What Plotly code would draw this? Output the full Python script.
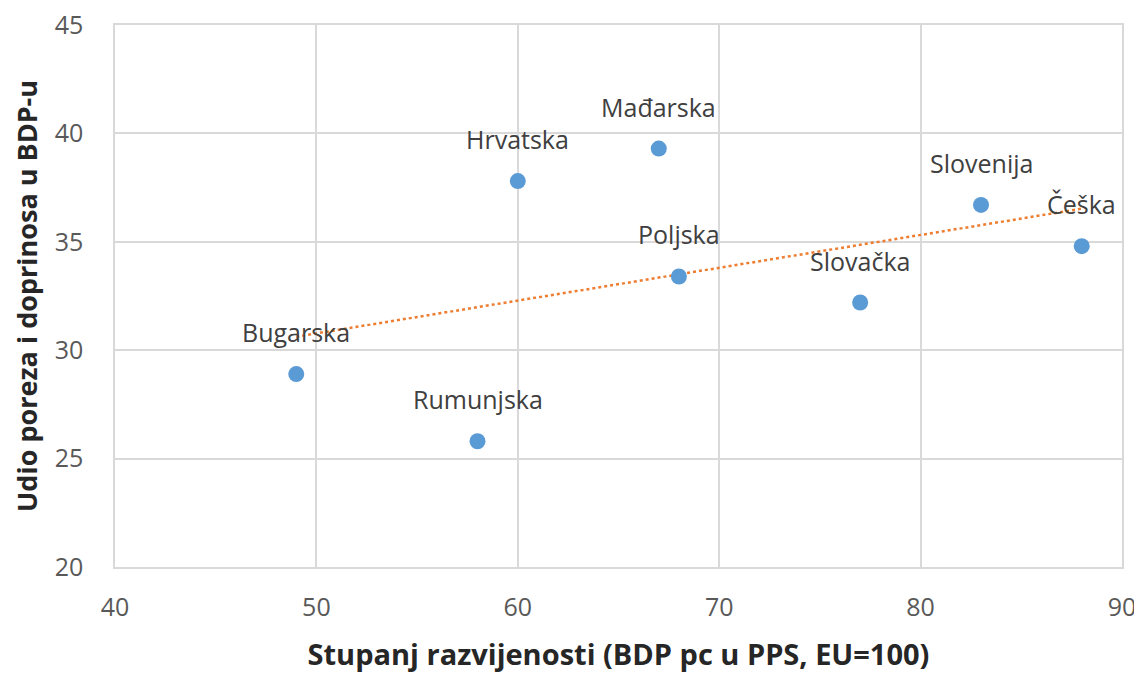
import numpy as np
import plotly.graph_objects as go

countries = ["Bugarska", "Rumunjska", "Hrvatska", "Mađarska", "Poljska", "Slovačka", "Slovenija", "Češka"]
gdp_pps = [49, 58, 60, 67, 68, 77, 83, 88]
tax_share = [28.9, 25.8, 37.8, 39.3, 33.4, 32.2, 36.7, 34.8]

x_ticks = [40, 50, 60, 70, 80, 90]
y_ticks = [20, 25, 30, 35, 40, 45]

FONT = "Open Sans"

# linear trendline (least squares), drawn between the outermost points
slope, intercept = np.polyfit(gdp_pps, tax_share, 1)
trend_x = [min(gdp_pps), max(gdp_pps)]
trend_y = [slope * x + intercept for x in trend_x]

fig = go.Figure()
fig.add_trace(
    go.Scatter(
        x=trend_x,
        y=trend_y,
        mode="lines",
        line={"color": "#ED7D31", "width": 2.5, "dash": "dot"},
        hoverinfo="skip",
    )
)
fig.add_trace(
    go.Scatter(
        x=gdp_pps,
        y=tax_share,
        mode="markers",
        marker={"color": "#5B9BD5", "size": 16},
        text=countries,
    )
)

for name, x, y in zip(countries, gdp_pps, tax_share):
    fig.add_annotation(
        x=x,
        y=y,
        text=name,
        showarrow=False,
        yshift=42,
        font={"family": FONT, "size": 25, "color": "#404040"},
    )

# the page body adds an 8px offset, so the figure is sized to the visible area
fig.update_layout(
    width=1134,
    height=665,
    template="none",
    showlegend=False,
    paper_bgcolor="#ffffff",
    plot_bgcolor="#ffffff",
    margin={"l": 107, "r": 20, "t": 17, "b": 106},
    font={"family": FONT, "color": "#595959"},
)
fig.update_xaxes(
    range=[40, 90],
    tickvals=x_ticks,
    automargin=False,
    ticklabeloverflow="allow",
    showgrid=True,
    gridcolor="#d9d9d9",
    gridwidth=1.5,
    showline=True,
    mirror=True,
    linecolor="#d9d9d9",
    linewidth=1.5,
    zeroline=False,
    ticks="outside",
    ticklen=17,
    tickcolor="rgba(0,0,0,0)",
    tickfont={"family": FONT, "size": 25, "color": "#595959"},
    title={
        "text": "<b>Stupanj razvijenosti (BDP pc u PPS, EU=100)</b>",
        "font": {"family": FONT, "size": 29, "color": "#262626"},
        "standoff": 26,
    },
)
fig.update_yaxes(
    range=[20, 45],
    tickvals=y_ticks,
    automargin=False,
    ticklabeloverflow="allow",
    showgrid=True,
    gridcolor="#d9d9d9",
    gridwidth=1.5,
    showline=True,
    mirror=True,
    linecolor="#d9d9d9",
    linewidth=1.5,
    zeroline=False,
    ticks="outside",
    ticklen=25,
    tickcolor="rgba(0,0,0,0)",
    tickfont={"family": FONT, "size": 25, "color": "#595959"},
    title={
        "text": "<b>Udio poreza i doprinosa u BDP-u</b>",
        "font": {"family": FONT, "size": 27, "color": "#262626"},
        "standoff": 12,
    },
)

fig.write_html("out.html")
